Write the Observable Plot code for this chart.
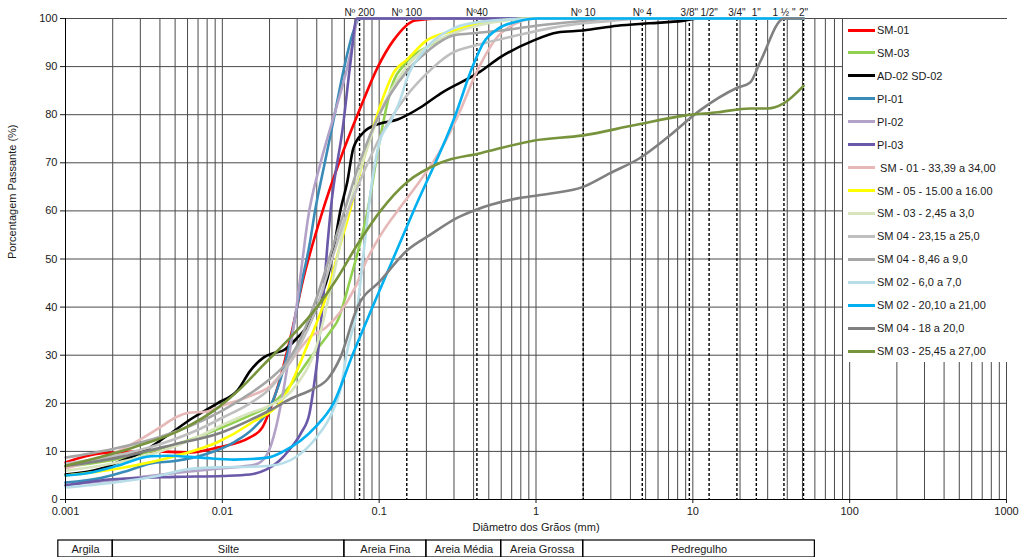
<!DOCTYPE html>
<html>
<head>
<meta charset="utf-8">
<script src="https://cdn.jsdelivr.net/npm/d3@7"></script>
<script src="https://cdn.jsdelivr.net/npm/@observablehq/plot@0.6"></script>
<style>
  html, body { margin: 0; padding: 0; background: #fff; }
  body { font-family: "Liberation Sans", Arial, sans-serif; }
  #wrap { position: relative; width: 1024px; height: 557px; overflow: hidden; background: #fff; }
  #wrap svg { display: block; }
  #legend { position: absolute; left: 843px; top: 19px; width: 181px; height: 343px; background: #fff; }
  .item { position: absolute; left: 0; height: 14px; display: flex; align-items: center; font-size: 11px; color: #1a1a1a; white-space: pre; }
  .sw { width: 27px; height: 3px; margin-left: 5px; margin-right: 2px; }
</style>
</head>
<body>
<div id="wrap"><div id="chart"></div><div id="table"></div><div id="legend"></div></div>
<script>
// ---------------- DATA ----------------
const seriesNames = [
  "SM-01", "SM-03", "AD-02 SD-02", "PI-01", "PI-02", "PI-03",
  " SM - 01 - 33,39 a 34,00", "SM - 05 - 15.00 a 16.00", "SM - 03 - 2,45 a 3,0",
  "SM 04 - 23,15 a 25,0", "SM 04 - 8,46 a 9,0", "SM 02 - 6,0 a 7,0",
  "SM 02 - 20,10 a 21,00", "SM 04 - 18 a 20,0", "SM 03 - 25,45 a 27,00"
];
const seriesColors = [
  "#ff0000", "#92d050", "#000000", "#3a8cb8", "#b3a2c7", "#6a58a8",
  "#e6b9b8", "#ffff00", "#d7e4bd", "#bfbfbf", "#a6a6a6", "#b7dee8",
  "#00b0f0", "#808080", "#77933c"
];
// [diameter mm, % passing]
const sm01 = [[0.001,7.7],[0.0017,9.6],[0.0035,10],[0.0063,9.8],[0.0093,10.8],[0.015,12.9],[0.018,15],[0.0203,19],[0.0225,23.3],[0.0272,33.7],[0.0329,46],[0.0423,58.6],[0.0593,72.6],[0.076,81.5],[0.0976,89.8],[0.123,95.4],[0.17,99.6],[0.25,100],[2,100],[50.8,100]];
const sm03 = [[0.001,6.8],[0.002,8.2],[0.004,10.5],[0.007,13],[0.01,15],[0.015,17.5],[0.02,19.5],[0.026,23],[0.0365,29.5],[0.049,35],[0.054,37],[0.0657,46],[0.0843,60],[0.1,74],[0.118,85],[0.15,91],[0.2,94],[0.3,97],[0.42,99],[0.6,100],[50.8,100]];
const ad02 = [[0.001,5.2],[0.00167,6.4],[0.00214,7.7],[0.00314,10],[0.00447,13.3],[0.0065,17],[0.0093,20],[0.0125,22.7],[0.0151,26.8],[0.0183,29.5],[0.0211,30.4],[0.0245,31],[0.0302,33.7],[0.0365,37],[0.0423,42],[0.0468,46],[0.0511,51.8],[0.0565,60],[0.0626,66],[0.0684,73],[0.0793,76.3],[0.0977,78],[0.131,79],[0.183,81.5],[0.246,84.4],[0.443,89],[0.59,91.9],[0.96,95.4],[1.37,97.1],[2,97.5],[3.3,98.5],[5.3,99],[8.6,99.5],[11,100],[50.8,100]];
const pi01 = [[0.001,3.5],[0.0017,4.5],[0.0025,6],[0.0035,7.5],[0.005,8],[0.008,9.5],[0.012,12],[0.016,15],[0.02,19],[0.024,26],[0.028,35],[0.032,45],[0.036,53],[0.039,60],[0.045,70],[0.052,80],[0.06,90],[0.068,97],[0.075,100],[50.8,100]];
const pi02 = [[0.001,3],[0.002,4],[0.005,5.5],[0.01,6.5],[0.016,7.2],[0.019,9],[0.022,15],[0.024,21],[0.027,31],[0.03,41],[0.0325,50],[0.035,58],[0.0423,70],[0.0511,79.4],[0.0626,89.8],[0.0684,95.4],[0.073,100],[50.8,100]];
const pi03 = [[0.001,2.9],[0.002,4.2],[0.005,4.7],[0.01,4.9],[0.015,5.2],[0.019,6.2],[0.023,8],[0.027,10.5],[0.032,14],[0.036,18],[0.038,22.7],[0.0403,29],[0.0423,36],[0.0443,43],[0.0468,53],[0.049,60],[0.059,78],[0.0657,91],[0.072,100],[50.8,100]];
const sm01b = [[0.001,6.5],[0.002,9.5],[0.003,12.5],[0.004,15],[0.005,17],[0.006,18],[0.008,18.3],[0.01,19.5],[0.015,21.5],[0.02,23.5],[0.025,27],[0.03,30.5],[0.036,33.7],[0.046,35.8],[0.0565,39],[0.07,44],[0.084,50],[0.107,56],[0.131,60],[0.18,66],[0.25,73],[0.33,81],[0.42,89],[0.6,97],[1,100],[50.8,100]];
const sm05 = [[0.001,5],[0.00214,6.4],[0.00565,9.5],[0.0093,11.9],[0.0151,15.8],[0.025,21.5],[0.0348,32],[0.0468,43],[0.0565,53],[0.0626,58],[0.0793,70.5],[0.0916,77.3],[0.106,83.6],[0.123,88.6],[0.151,91.5],[0.2,95.4],[0.3,97.5],[0.44,99],[1,100],[50.8,100]];
const sm03b = [[0.001,6],[0.002,7.5],[0.004,10],[0.007,13],[0.01,15.5],[0.015,18],[0.02,19.5],[0.03,24],[0.04,32],[0.05,45],[0.06,57],[0.075,68],[0.1,80],[0.15,90],[0.2,94],[0.3,97],[0.42,98.5],[1,100],[50.8,100]];
const sm04a = [[0.001,7.5],[0.002,9],[0.004,11.5],[0.007,14.5],[0.01,17],[0.015,20],[0.02,23],[0.025,27],[0.03,31],[0.04,40],[0.05,50],[0.06,58],[0.075,66],[0.1,75],[0.15,84],[0.2,88.5],[0.28,92.5],[0.46,94.8],[0.76,96.5],[1.24,98],[2,99],[3,99.5],[5,100],[50.8,100]];
const sm04b = [[0.001,8.7],[0.002,10.5],[0.004,13],[0.007,16],[0.01,18.5],[0.015,22],[0.02,25],[0.025,28],[0.03,32],[0.04,42],[0.05,52],[0.06,60],[0.075,70],[0.1,80],[0.15,89],[0.2,93],[0.3,96.5],[0.42,97],[0.6,97.5],[1,98.5],[2,99.5],[3,100],[50.8,100]];
const sm02a = [[0.001,2.5],[0.002,3.5],[0.004,5],[0.006,6.3],[0.01,6.7],[0.015,6.8],[0.02,7],[0.03,9],[0.04,13],[0.05,18],[0.0565,22.7],[0.0626,31],[0.0727,40],[0.08,52],[0.09,66],[0.1,74],[0.12,79],[0.136,83],[0.151,87.7],[0.19,93],[0.3,98],[0.44,99.3],[1,100],[50.8,100]];
const sm02b = [[0.001,5],[0.00134,5.4],[0.00214,7],[0.0035,9],[0.0045,9.1],[0.0073,8.7],[0.0119,8.3],[0.0194,8.7],[0.0245,10],[0.039,15],[0.0511,20],[0.0675,30],[0.0907,40],[0.1656,60],[0.307,80],[0.394,90],[0.463,95],[0.568,97.8],[0.763,99.4],[1.02,100],[50.8,100]];
const sm04c = [[0.001,7],[0.002,8.5],[0.005,11.5],[0.01,14],[0.015,16.5],[0.02,18.5],[0.0275,21],[0.038,23],[0.0468,25],[0.0565,29.5],[0.0727,40],[0.102,45.5],[0.151,51.8],[0.211,55],[0.316,58.6],[0.42,60.3],[0.76,62.6],[1.24,63.6],[2,65],[2.95,67.8],[4.6,71],[6.9,75.3],[11.1,80.9],[19.2,85.6],[23.2,86.7],[26.9,91],[38.1,100],[50.8,100]];
const sm03c = [[0.001,7],[0.0027,10.8],[0.0057,14.8],[0.0093,19],[0.013,23],[0.0183,28],[0.0272,33.7],[0.038,39],[0.054,46],[0.0727,53],[0.102,60],[0.151,66],[0.246,70],[0.443,72],[0.96,74.6],[2,75.7],[4.2,77.8],[8.8,79.8],[14.4,80.5],[23.2,81.3],[30,81.3],[37.7,82.3],[50.8,86]];
const seriesPoints = [sm01, sm03, ad02, pi01, pi02, pi03, sm01b, sm05, sm03b, sm04a, sm04b, sm02a, sm02b, sm04c, sm03c];

const sieveLabels = ["Nº 200", "Nº 100", "Nº40", "Nº 10", "Nº 4", "3/8\"", "1/2\"", "3/4\"", "1\"", "1 ½ \"", "2\""];
const sieveSizes = [0.075, 0.15, 0.42, 2.0, 4.76, 9.5, 12.7, 19.1, 25.4, 38.1, 50.8];

const xTickValues = [0.001, 0.01, 0.1, 1, 10, 100, 1000];
const xTickLabels = ["0.001", "0.01", "0.1", "1", "10", "100", "1000"];
const yTickValues = [0, 10, 20, 30, 40, 50, 60, 70, 80, 90, 100];

const soilNames = ["Argila", "Silte", "Areia Fina", "Areia Média", "Areia Grossa", "Pedregulho"];
const soilLimits = [0.0009, 0.002, 0.06, 0.2, 0.6, 2, 60];

const xLabel = "Diâmetro dos Grãos (mm)";
const yLabel = "Porcentagem Passante (%)";

// ---------------- BUILD ----------------
const gridX = [];
for (let e = -3; e < 3; e++) for (let m = 1; m <= 9; m++) gridX.push(+(m * Math.pow(10, e)).toPrecision(3));
gridX.push(1000);

const sieves = sieveSizes.map((d, i) => ({d, label: sieveLabels[i]}));
const font = "Liberation Sans, Arial, sans-serif";
const xDomain = [0.001, 1000];

const lineMarks = seriesPoints.map((pts, i) =>
  Plot.line(pts, {x: d => d[0], y: d => d[1], stroke: seriesColors[i], strokeWidth: 2.6, curve: "monotone-x"})
);

const chart = Plot.plot({
  width: 1024, height: 540,
  marginTop: 18, marginBottom: 41, marginLeft: 65, marginRight: 18,
  style: {fontFamily: font, fontSize: "11px", color: "#1a1a1a", background: "#fff", overflow: "visible"},
  x: {type: "log", domain: xDomain},
  y: {domain: [0, 100]},
  marks: [
    Plot.ruleX(gridX, {stroke: "#4a4a4a", strokeWidth: 1}),
    Plot.ruleY(yTickValues, {stroke: "#4a4a4a", strokeWidth: 1}),
    Plot.ruleX(sieveSizes, {stroke: "#000", strokeWidth: 1.4, strokeDasharray: "3,2"}),
    ...lineMarks,
    Plot.text(sieves, {x: "d", y: () => 100, text: "label", dy: -3, lineAnchor: "bottom", fontSize: 10, fill: "#1a1a1a"}),
    Plot.axisX({ticks: xTickValues, tickFormat: (d) => xTickLabels[xTickValues.indexOf(d)], tickSize: 4, tickPadding: 4, label: null}),
    Plot.axisY({ticks: yTickValues, tickSize: 5, tickPadding: 3, label: null}),
    Plot.ruleX([xDomain[0]], {stroke: "#000"}),
    Plot.ruleY([0], {stroke: "#000"}),
    Plot.text([xLabel], {frameAnchor: "bottom", dy: 31, text: d => d, fontSize: 11}),
    Plot.text([yLabel], {frameAnchor: "left", dx: -53, rotate: -90, text: d => d, fontSize: 11})
  ]
});
document.getElementById("chart").appendChild(chart);

const cells = soilNames.map((name, i) => ({name, a: soilLimits[i], b: soilLimits[i + 1]}));
const table = Plot.plot({
  width: 1024, height: 17,
  marginTop: 0, marginBottom: 0, marginLeft: 65, marginRight: 18,
  style: {fontFamily: font, fontSize: "11px", color: "#1a1a1a", background: "#fff", overflow: "visible"},
  x: {type: "log", domain: xDomain, axis: null},
  marks: [
    Plot.rect(cells, {x1: "a", x2: "b", fill: "none", stroke: "#000", strokeWidth: 1.2, inset: 0}),
    Plot.text(cells, {x: d => Math.sqrt(d.a * d.b), text: "name", frameAnchor: "middle", fontSize: 11})
  ]
});
document.getElementById("table").appendChild(table);

// legend (overlay box, as in the reference)
const legend = document.getElementById("legend");
seriesNames.forEach((name, i) => {
  const it = document.createElement("div");
  it.className = "item";
  it.style.top = (11 + i * 22.93 - 7) + "px";
  const sw = document.createElement("span");
  sw.className = "sw";
  sw.style.background = seriesColors[i];
  const tx = document.createElement("span");
  tx.textContent = name;
  it.appendChild(sw); it.appendChild(tx);
  legend.appendChild(it);
});
</script>
</body>
</html>
